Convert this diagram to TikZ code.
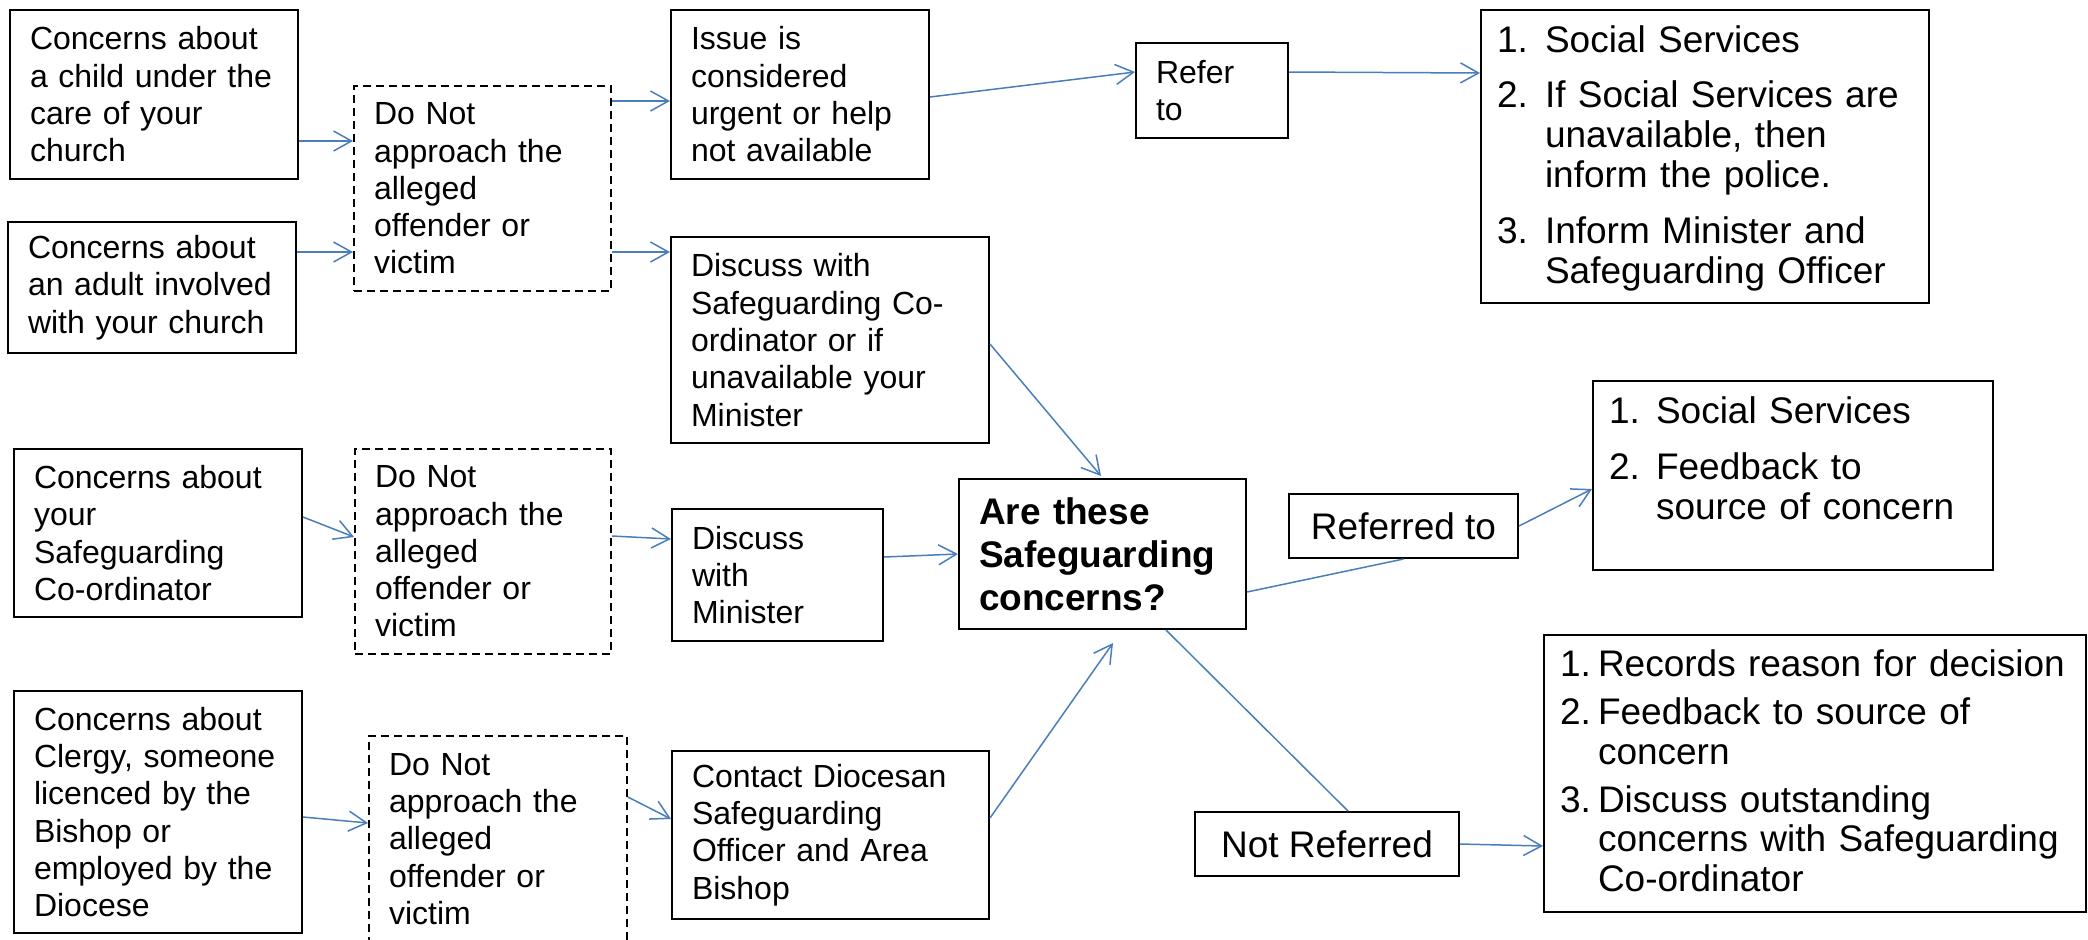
\documentclass[tikz,border=0pt]{standalone}
\usepackage{fontspec}
\setmainfont{Liberation Sans}
\usetikzlibrary{arrows.meta,calc}
\definecolor{arrowblue}{RGB}{74,126,187}
\newcommand\txtnorm{\fontsize{16pt}{18.65pt}\selectfont}
\newcommand\txtbig{\fontsize{18.5pt}{20pt}\selectfont}
\newcommand\txtbigc{\fontsize{18.5pt}{19.75pt}\selectfont}
\newcommand\txtbold{\fontsize{18.5pt}{21.5pt}\selectfont\bfseries}
\tikzset{
  box/.style={draw=black, line width=1pt, inner xsep=10pt, inner ysep=0pt, align=left, font=\txtnorm},
  dbox/.style={box, line width=0.9pt, dash pattern=on 4pt off 2.5pt},
  listbox/.style={draw=black, line width=1pt, inner xsep=8pt, inner ysep=0pt, align=left, font=\txtbig},
  onebox/.style={draw=black, line width=1pt, inner sep=0pt, align=center, font=\txtbig},
  arr/.style={draw=arrowblue, line width=0.75pt, -{Straight Barb[length=9pt,width=10pt]}},
  lin/.style={draw=arrowblue, line width=0.75pt}
}
\begin{document}
\begin{tikzpicture}[x=0.5pt,y=-0.5pt]
\useasboundingbox (0,0) rectangle (2088,939);
\clip (0,0) rectangle (2088,939);
% column 1
\node[box, minimum width=144pt, minimum height=84.5pt, text width=124pt] (child) at (154,94.5) {Concerns about\\a child under the\\care of your\\church};
\node[box, minimum width=144pt, minimum height=65.5pt, text width=124pt] (adult) at (152,287.5) {Concerns about\\an adult involved\\with your church};
\node[box, minimum width=144pt, minimum height=84pt, text width=124pt] (csc) at (158,533) {Concerns about\\your\\Safeguarding\\Co-ordinator};
\node[box, minimum width=144pt, minimum height=121pt, text width=124pt] (clergy) at (158,812) {Concerns about\\Clergy, someone\\licenced by the\\Bishop or\\employed by the\\Diocese};
% dashed boxes
\node[dbox, minimum width=128.5pt, minimum height=102.5pt, text width=108.5pt] (dash1) at (482.5,188.5) {Do Not\\approach the\\alleged\\offender or\\victim};
\node[dbox, minimum width=128pt, minimum height=102.5pt, text width=108pt] (dash2) at (483,551.5) {Do Not\\approach the\\alleged\\offender or\\victim};
\node[dbox, minimum width=129pt, minimum height=103pt, text width=109pt] (dash3) at (498,839) {Do Not\\approach the\\alleged\\offender or\\victim};
% column 3
\node[box, minimum width=129pt, minimum height=84.5pt, text width=109pt] (issue) at (800,94.5) {Issue is\\considered\\urgent or help\\not available};
\node[box, minimum width=159pt, minimum height=103pt, text width=139pt] (dsc) at (830,340) {Discuss with\\Safeguarding Co-\\ordinator or if\\unavailable your\\Minister};
\node[box, minimum width=105.5pt, minimum height=66pt, text width=85.5pt] (dmin) at (777.5,575) {Discuss\\with\\Minister};
\node[box, minimum width=158.5pt, minimum height=84pt, text width=138.5pt] (contact) at (830.5,835) {Contact Diocesan\\Safeguarding\\Officer and Area\\Bishop};
% refer
\node[box, minimum width=76pt, minimum height=47.5pt, text width=56pt] (refer) at (1212,90.5) {Refer\\to};
% decision
\node[box, font=\txtbold, minimum width=143.5pt, minimum height=75pt, text width=123.5pt] (are) at (1102.5,554) {Are these\\Safeguarding\\concerns?};
\node[onebox, minimum width=114.5pt, minimum height=32pt] (refd) at (1403.5,526) {Referred to};
\node[onebox, minimum width=132pt, minimum height=32pt] (notref) at (1327,844) {Not Referred};
% lists
\node[listbox, minimum width=224pt, minimum height=146.5pt, text width=208pt] (list1) at (1705,156.5) {\begin{tabular}{@{}p{24pt}@{}l@{}}1.&\rule{0pt}{17pt}Social Services\\[7.5pt]2.&If Social Services are\\&unavailable, then\\&inform the police.\\[8pt]3.&Inform Minister and\\&Safeguarding Officer\end{tabular}};
\node[listbox, minimum width=200pt, minimum height=94.5pt, text width=184pt] (list2) at (1793,475.5) {\begin{tabular}{@{}p{23.5pt}@{}l@{}}1.&Social Services\\[8pt]2.&Feedback to\\&source of concern\\[12.5pt]\end{tabular}};
\node[listbox, font=\txtbigc, minimum width=271pt, minimum height=138.5pt, text width=255pt] (list3) at (1815,773.5) {\begin{tabular}{@{}p{19pt}@{}l@{}}1.&\rule{0pt}{16.6pt}Records reason for decision\\[4.25pt]2.&Feedback to source of\\&concern\\[4.25pt]3.&Discuss outstanding\\&concerns with Safeguarding\\&Co-ordinator\end{tabular}};
% connectors
\draw[arr] ($(child.east)+(0,46.5)$) -- ($(dash1.west)+(0,-47.5)$);
\draw[arr] ($(adult.east)+(0,-35.5)$) -- ($(dash1.west)+(0,63.5)$);
\draw[arr] ($(dash1.east)+(0,-87.5)$) -- ($(issue.west)+(0,6.5)$);
\draw[arr] ($(dash1.east)+(0,63.5)$) -- ($(dsc.west)+(0,-88)$);
\draw[arr] ($(issue.east)+(0,2.5)$) -- ($(refer.west)+(0,-18.5)$);
\draw[arr] ($(refer.east)+(0,-18.5)$) -- ($(list1.west)+(0,-83.5)$);
\draw[arr] ($(dsc.east)+(0,4)$) -- ($(are.north)+(-1.5,-2)$);
\draw[arr] ($(csc.east)+(0,-16)$) -- ($(dash2.west)+(0,-14.5)$);
\draw[arr] ($(dash2.east)+(0,-15.5)$) -- ($(dmin.west)+(0,-36)$);
\draw[arr] ($(dmin.east)+(0,-18)$) -- (are.west);
\draw[arr] ($(clergy.east)+(0,5)$) -- ($(dash3.west)+(0,-16)$);
\draw[arr] ($(dash3.east)+(0,-42)$) -- ($(contact.west)+(0,-16)$);
\draw[arr] ($(contact.east)+(0,-17)$) -- ($(are.south)+(10.5,13)$);
\draw[lin] ($(are.east)+(0,38)$) -- (refd.south);
\draw[arr] (refd.east) -- ($(list2.west)+(0,13.5)$);
\draw[lin] ($(are.south)+(63.5,0)$) -- ($(notref.north)+(21,0)$);
\draw[arr] (notref.east) -- ($(list3.west)+(0,72.5)$);
\end{tikzpicture}
\end{document}
